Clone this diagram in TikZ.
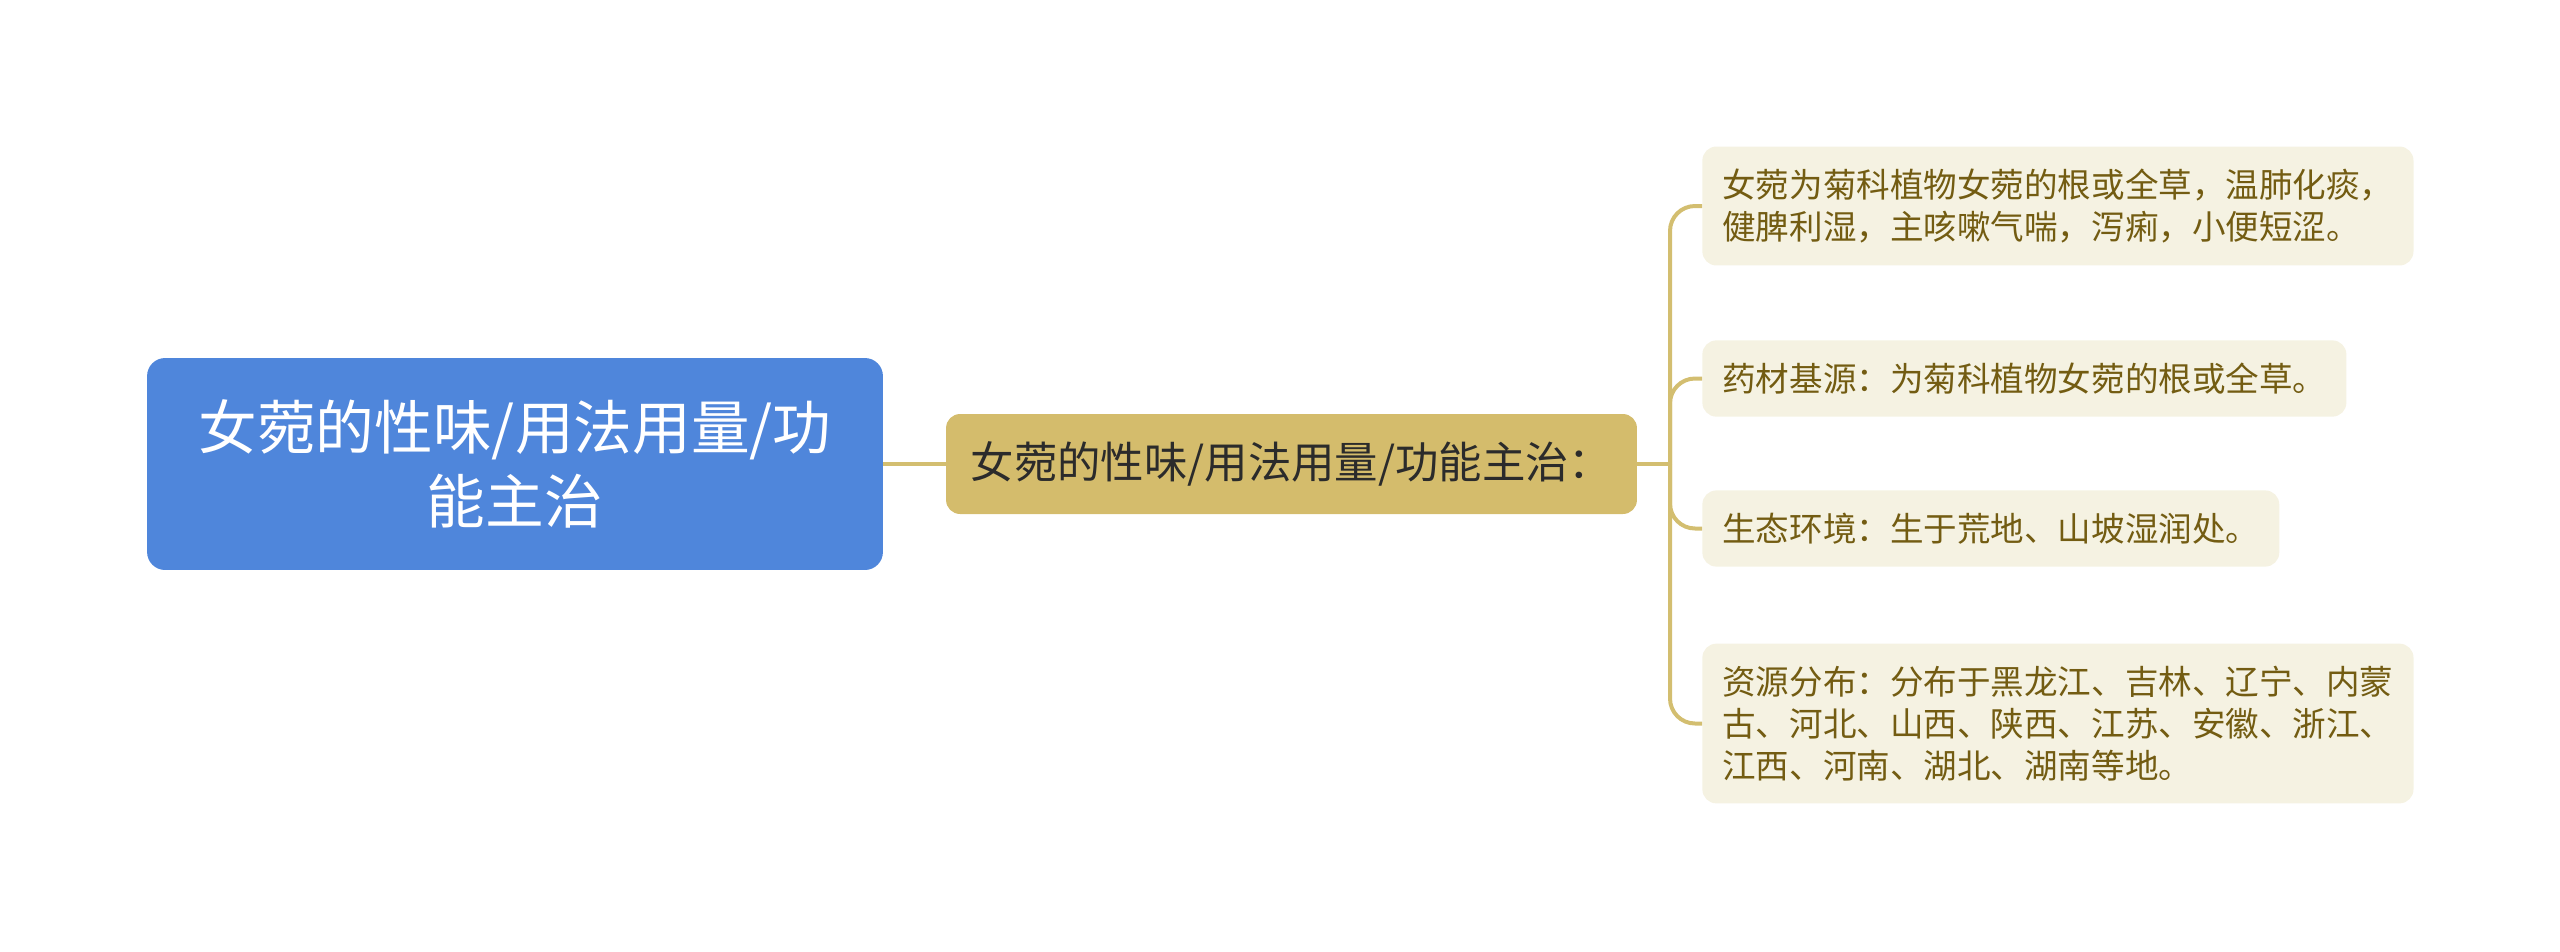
\documentclass[tikz,border=0pt]{standalone}
\usepackage{fontspec}
\usepackage{tikz}
\newfontfamily\cjk{Noto Sans CJK SC}
\definecolor{rootblue}{HTML}{4F86DB}
\definecolor{midgold}{HTML}{D4BC6C}
\definecolor{linkgold}{HTML}{D3BE70}
\definecolor{leaffill}{HTML}{F5F2E2}
\definecolor{leaftext}{HTML}{735C12}
\definecolor{midtext}{HTML}{2B2B2B}

\begin{document}
\begin{tikzpicture}[x = .02cm, y = -.02cm,
  rootbox/.style = {fill = rootblue, rounded corners = .36cm, text = white, align = center, minimum width = 14.72cm, minimum height = 4.24cm, font = \cjk\fontsize{33.4}{42.5}\selectfont},
  midbox/.style = {fill = midgold, rounded corners = .28cm, text = midtext, minimum width = 13.82cm, minimum height = 2cm, font = \cjk\fontsize{24.7}{30}\selectfont},
  leafbox/.style = {fill = leaffill, rounded corners = .28cm, text = leaftext, align = left, anchor = west, inner xsep = .4cm, inner ysep = .45cm, font = \cjk\fontsize{19.1}{23.8}\selectfont},
  link/.style = {draw = linkgold, line width = .08cm}]
\useasboundingbox (0, 0) rectangle (2560, 951);
\node[rootbox] (root) at (515, 464) {女菀的性味/用法用量/功\\能主治};
\node[midbox] (mid) at (1291.5, 464) {女菀的性味/用法用量/功能主治：};
\node[leafbox] (src) at (1702, 206) {女菀为菊科植物女菀的根或全草，温肺化痰，\\健脾利湿，主咳嗽气喘，泻痢，小便短涩。};
\node[leafbox] (herb) at (1702, 378.5) {药材基源：为菊科植物女菀的根或全草。};
\node[leafbox] (habitat) at (1702, 528.5) {生态环境：生于荒地、山坡湿润处。};
\node[leafbox] (range) at (1702, 723.5) {资源分布：分布于黑龙江、吉林、辽宁、内蒙\\古、河北、山西、陕西、江苏、安徽、浙江、\\江西、河南、湖北、湖南等地。};
\coordinate (fork) at (1670, 464);
\draw[link] (root) -- (mid);
\draw[link] (mid.east) -- (fork);
\draw[link, rounded corners = .5cm] (fork) |- (src.west);
\draw[link, rounded corners = .5cm] (fork) |- (herb.west);
\draw[link, rounded corners = .5cm] (fork) |- (habitat.west);
\draw[link, rounded corners = .5cm] (fork) |- (range.west);
\end{tikzpicture}
\end{document}
